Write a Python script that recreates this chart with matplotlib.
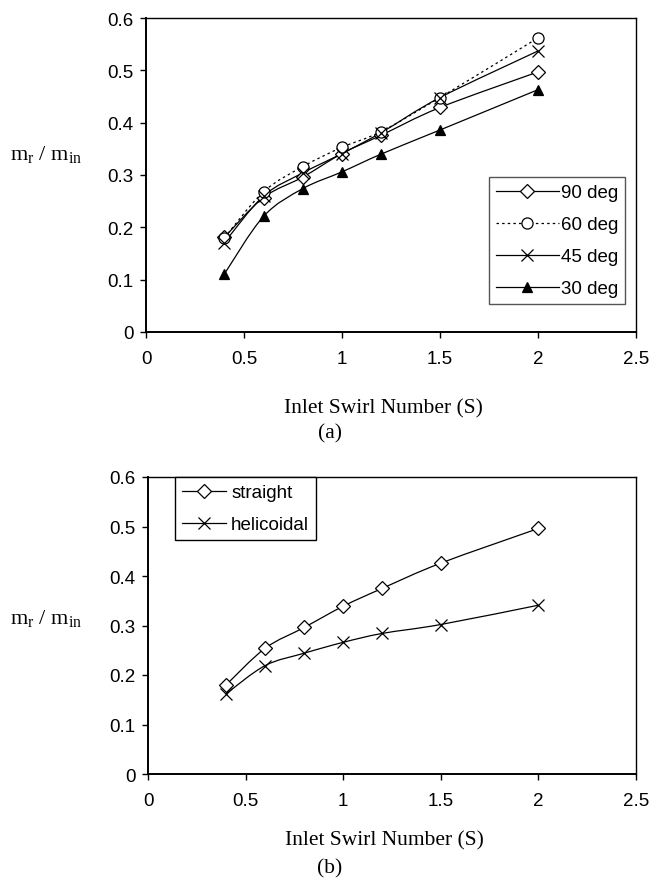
import matplotlib
matplotlib.use("Agg")
import matplotlib.pyplot as plt
from matplotlib.path import Path
from matplotlib.patches import PathPatch
from matplotlib.lines import Line2D
import numpy as np

# Swirl numbers tested
S = [0.4, 0.6, 0.8, 1.0, 1.2, 1.5, 2.0]

# (a) effect of inclination angle
deg90 = [0.181, 0.257, 0.296, 0.341, 0.376, 0.429, 0.497]
deg60 = [0.180, 0.268, 0.316, 0.353, 0.383, 0.448, 0.562]
deg45 = [0.171, 0.260, 0.304, 0.341, 0.381, 0.448, 0.537]
deg30 = [0.111, 0.221, 0.274, 0.306, 0.340, 0.386, 0.463]

# (b) straight vs helicoidal
straight = [0.180, 0.254, 0.296, 0.339, 0.375, 0.426, 0.496]
helicoidal = [0.162, 0.219, 0.244, 0.266, 0.284, 0.302, 0.341]

W, H = 653, 879
sans = "Liberation Sans"
serif = "Liberation Serif"
fs_tick = 13.5
fs_lab = 15.5


def smooth_path(x, y):
    # Catmull-Rom through the points, written as cubic Bezier segments
    p = np.column_stack([x, y]).astype(float)
    p = np.vstack([p[0], p, p[-1]])
    verts = [p[1]]
    codes = [Path.MOVETO]
    for i in range(1, len(p) - 2):
        c1 = p[i] + (p[i + 1] - p[i - 1]) / 6.0
        c2 = p[i + 1] - (p[i + 2] - p[i]) / 6.0
        verts += [c1, c2, p[i + 1]]
        codes += [Path.CURVE4] * 3
    return Path(verts, codes)


def serie(ax, x, y, marker, ms, ls="-", fc="white"):
    ax.add_patch(PathPatch(smooth_path(x, y), fill=False, ec="black",
                           lw=0.9, ls=ls, zorder=2))
    ax.plot(x, y, ls="none", marker=marker, ms=ms, mfc=fc, mec="black",
            mew=0.9, zorder=3, clip_on=False)
    return Line2D([], [], color="black", lw=0.9, ls=ls, marker=marker,
                  ms=ms, mfc=fc, mec="black", mew=0.9)


def setup(ax):
    ax.set_xlim(0, 2.5)
    ax.set_ylim(0, 0.6)
    ax.set_xticks([0, 0.5, 1, 1.5, 2, 2.5])
    ax.set_xticklabels(["0", "0.5", "1", "1.5", "2", "2.5"])
    ax.set_yticks([0, 0.1, 0.2, 0.3, 0.4, 0.5, 0.6])
    ax.set_yticklabels(["0", "0.1", "0.2", "0.3", "0.4", "0.5", "0.6"])
    ax.tick_params(direction="out", length=4, width=1, color="black",
                   labelsize=fs_tick, top=False, right=False)
    ax.tick_params(axis="x", pad=9)
    ax.tick_params(axis="y", pad=5)
    for lab in ax.get_xticklabels() + ax.get_yticklabels():
        lab.set_fontfamily(sans)
    for side in ["left", "bottom"]:
        ax.spines[side].set_linewidth(1.4)
    for side in ["top", "right"]:
        ax.spines[side].set_linewidth(1.0)


fig = plt.figure(figsize=(W / 100, H / 100), dpi=100)

# ---- (a) ----
ax1 = fig.add_axes([146 / W, 1 - 333 / H, 490 / W, 314 / H])
setup(ax1)
h90 = serie(ax1, S, deg90, "D", 7)
h60 = serie(ax1, S, deg60, "o", 8, ls=(0, (2, 2.5)))
h45 = serie(ax1, S, deg45, "x", 9)
h30 = serie(ax1, S, deg30, "^", 7, fc="black")
leg1 = ax1.legend([h90, h60, h45, h30], ["90 deg", "60 deg", "45 deg", "30 deg"],
                  loc="upper left", bbox_to_anchor=((489 - 146) / 490, (333 - 178) / 314),
                  prop={"family": sans, "size": fs_tick}, handlelength=3.35,
                  handletextpad=0.1, labelspacing=0.8, borderpad=0.37,
                  borderaxespad=0, fancybox=False, framealpha=1)
leg1.get_frame().set_edgecolor("#555555")
leg1.get_frame().set_linewidth(1.0)

# ---- (b) ----
ax2 = fig.add_axes([148 / W, 1 - 775 / H, 488 / W, 297 / H])
setup(ax2)
hs = serie(ax2, S, straight, "D", 7)
hh = serie(ax2, S, helicoidal, "x", 9)
leg2 = ax2.legend([hs, hh], ["straight", "helicoidal"],
                  loc="upper left", bbox_to_anchor=((175 - 148) / 488, 1.0),
                  prop={"family": sans, "size": fs_tick}, handlelength=2.35,
                  handletextpad=0.27, labelspacing=0.8, borderpad=0.37,
                  borderaxespad=0, fancybox=False, framealpha=1)
leg2.get_frame().set_edgecolor("black")
leg2.get_frame().set_linewidth(1.0)

# axis titles and panel letters
ylab = "m$_\\mathregular{r}$ / m$_\\mathregular{in}$"
fig.text(10 / W, 1 - 160 / H, ylab, family=serif, size=16, ha="left", va="baseline")
fig.text(10 / W, 1 - 624 / H, ylab, family=serif, size=16, ha="left", va="baseline")
fig.text(383 / W, 1 - 413 / H, "Inlet Swirl Number (S)", family=serif, size=fs_lab,
         ha="center", va="baseline")
fig.text(384 / W, 1 - 845 / H, "Inlet Swirl Number (S)", family=serif, size=fs_lab,
         ha="center", va="baseline")
fig.text(330 / W, 1 - 438 / H, "(a)", family=serif, size=fs_lab, ha="center", va="baseline")
fig.text(330 / W, 1 - 873 / H, "(b)", family=serif, size=fs_lab, ha="center", va="baseline")

fig.savefig("out.png", dpi=100)
